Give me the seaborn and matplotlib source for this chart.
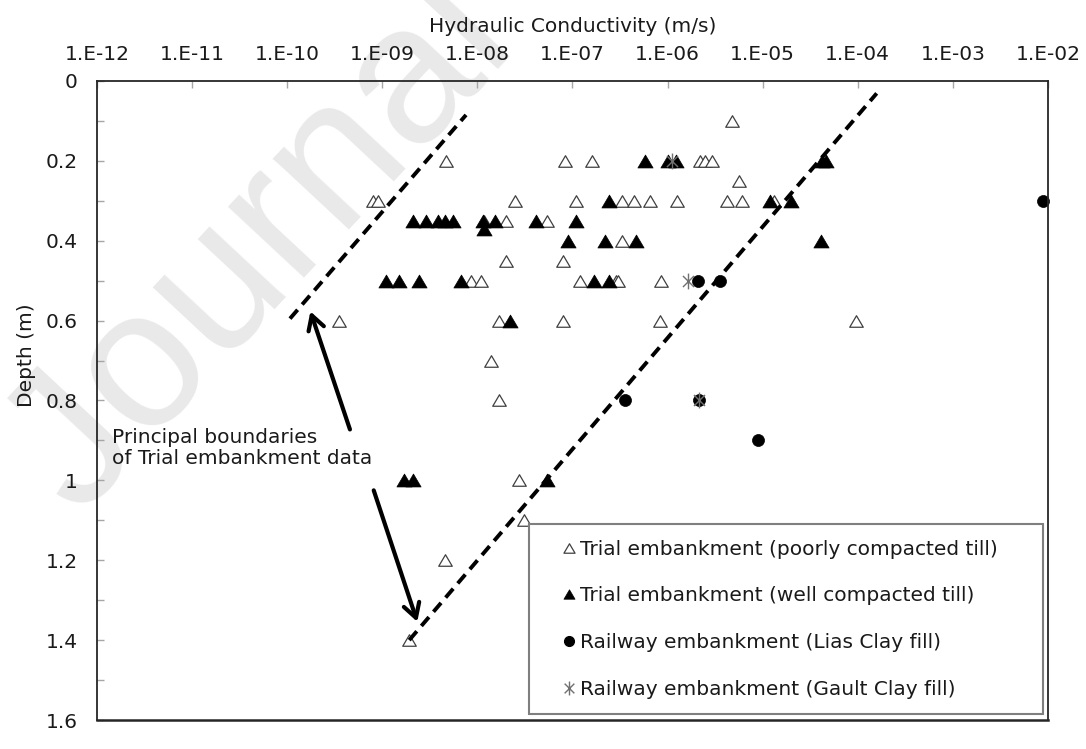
import numpy as np
import pandas as pd
import seaborn as sns
import matplotlib.pyplot as plt
from matplotlib.path import Path
from matplotlib.markers import MarkerStyle
from matplotlib.lines import Line2D
from matplotlib.ticker import NullLocator

# hydraulic conductivity k (m/s) against depth (m)

# trial embankment, poorly compacted till (open triangles)
poor_k = [4.8e-6,
          4.7e-9, 8.3e-8, 1.6e-7, 2.2e-6, 2.5e-6, 2.9e-6,
          5.6e-6,
          7.9e-10, 9.1e-10, 2.5e-8, 1.1e-7, 3.3e-7, 4.4e-7, 6.5e-7, 1.26e-6, 4.2e-6, 6.0e-6, 1.3e-5,
          1.17e-8, 2.0e-8, 5.4e-8,
          3.3e-7,
          2.0e-8, 7.9e-8,
          8.5e-9, 1.1e-8, 1.2e-7, 2.9e-7, 3.0e-7, 8.5e-7,
          3.5e-10, 1.7e-8, 7.9e-8, 8.3e-7, 9.5e-5,
          1.4e-8, 1.7e-8, 2.75e-8, 3.1e-8, 4.6e-9, 1.9e-9]
poor_depth = [0.1,
              0.2, 0.2, 0.2, 0.2, 0.2, 0.2,
              0.25,
              0.3, 0.3, 0.3, 0.3, 0.3, 0.3, 0.3, 0.3, 0.3, 0.3, 0.3,
              0.35, 0.35, 0.35,
              0.4,
              0.45, 0.45,
              0.5, 0.5, 0.5, 0.5, 0.5, 0.5,
              0.6, 0.6, 0.6, 0.6, 0.6,
              0.7, 0.8, 1.0, 1.1, 1.2, 1.4]

# trial embankment, well compacted till (filled triangles)
well_k = [5.8e-7, 1.0e-6, 1.23e-6, 4.2e-5, 4.6e-5,
          2.45e-7, 1.2e-5, 2.0e-5,
          2.1e-9, 2.9e-9, 3.9e-9, 4.6e-9, 5.6e-9, 1.15e-8, 1.55e-8, 4.1e-8, 1.1e-7,
          1.17e-8,
          8.9e-8, 2.2e-7, 4.7e-7, 4.1e-5,
          1.1e-9, 1.5e-9, 2.45e-9, 6.8e-9, 1.7e-7, 2.45e-7,
          2.2e-8,
          1.7e-9, 2.1e-9, 5.4e-8]
well_depth = [0.2, 0.2, 0.2, 0.2, 0.2,
              0.3, 0.3, 0.3,
              0.35, 0.35, 0.35, 0.35, 0.35, 0.35, 0.35, 0.35, 0.35,
              0.37,
              0.4, 0.4, 0.4, 0.4,
              0.5, 0.5, 0.5, 0.5, 0.5, 0.5,
              0.6,
              1.0, 1.0, 1.0]

# railway embankments
lias_k = [8.8e-3, 2.1e-6, 3.55e-6, 3.6e-7, 2.15e-6, 8.9e-6]
lias_depth = [0.3, 0.5, 0.5, 0.8, 0.8, 0.9]
gault_k = [1.1e-6, 1.65e-6, 2.15e-6]
gault_depth = [0.2, 0.5, 0.8]

# principal boundaries (dashed)
upper_k = [1.07e-10, 7.6e-9]
upper_depth = [0.595, 0.085]
lower_k = [1.92e-9, 1.58e-4]
lower_depth = [1.40, 0.031]

xtick_vals = [1e-12, 1e-11, 1e-10, 1e-9, 1e-8, 1e-7, 1e-6, 1e-5, 1e-4, 1e-3, 1e-2]
xtick_labels = ['1.E-12', '1.E-11', '1.E-10', '1.E-09', '1.E-08', '1.E-07',
                '1.E-06', '1.E-05', '1.E-04', '1.E-03', '1.E-02']
ytick_vals = [0, 0.2, 0.4, 0.6, 0.8, 1.0, 1.2, 1.4, 1.6]
ytick_labels = ['0', '0.2', '0.4', '0.6', '0.8', '1', '1.2', '1.4', '1.6']
yminor_vals = [0.1, 0.3, 0.5, 0.7, 0.9, 1.1, 1.3, 1.5]

series_labels = ['Trial embankment (poorly compacted till)',
                 'Trial embankment (well compacted till)',
                 'Railway embankment (Lias Clay fill)',
                 'Railway embankment (Gault Clay fill)']

sns.set_style('white')
plt.rcParams['font.family'] = ['DejaVu Sans']
plt.rcParams['font.size'] = 14.5
txt = '#1a1a1a'

tri = MarkerStyle(Path([(-1, -0.85), (1, -0.85), (0, 0.85), (-1, -0.85)], closed=True))
star = MarkerStyle(Path([(0, -1), (0, 1), (-0.7, -0.7), (0.7, 0.7), (-0.7, 0.7), (0.7, -0.7)],
                        [Path.MOVETO, Path.LINETO, Path.MOVETO, Path.LINETO, Path.MOVETO, Path.LINETO]))

poor = pd.DataFrame({'k': poor_k, 'depth': poor_depth})
well = pd.DataFrame({'k': well_k, 'depth': well_depth})
lias = pd.DataFrame({'k': lias_k, 'depth': lias_depth})
gault = pd.DataFrame({'k': gault_k, 'depth': gault_depth})

fig = plt.figure(figsize=(10.86, 7.49), dpi=100)
ax = fig.add_axes([0.0893, 0.0387, 0.8757, 0.8532])

# watermark
ax.text(0.072, 0.31, 'Journal', transform=fig.transFigure, rotation=47, rotation_mode='anchor',
        ha='left', va='baseline', fontsize=142, color='#e9e9e9', family='Liberation Sans', zorder=0.5)

sns.scatterplot(data=poor, x='k', y='depth', marker=tri, s=95, color='white',
                edgecolor='#404040', linewidth=0.9, ax=ax, zorder=2, legend=False)
sns.scatterplot(data=well, x='k', y='depth', marker=tri, s=120, color='black',
                edgecolor='black', linewidth=0.5, ax=ax, zorder=2, legend=False)
sns.scatterplot(data=lias, x='k', y='depth', marker='o', s=75, color='black',
                edgecolor='black', linewidth=0.5, ax=ax, zorder=2, legend=False, clip_on=False)
sns.scatterplot(data=gault, x='k', y='depth', marker=star, s=130, color='#707070',
                edgecolor='#707070', linewidth=1.0, ax=ax, zorder=2, legend=False)

ax.plot(upper_k, upper_depth, color='black', lw=2.8, ls=(0, (3, 1.8)), zorder=3)
ax.plot(lower_k, lower_depth, color='black', lw=2.8, ls=(0, (3, 1.8)), zorder=3)

ax.set_xscale('log')
ax.set_xlim(1e-12, 1e-2)
ax.set_ylim(1.6, 0)

ax.set_xticks(xtick_vals)
ax.set_xticklabels(xtick_labels)
ax.xaxis.set_minor_locator(NullLocator())
ax.set_yticks(ytick_vals)
ax.set_yticklabels(ytick_labels)
ax.set_yticks(yminor_vals, minor=True)

ax.tick_params(axis='x', which='both', top=True, bottom=False, labeltop=True, labelbottom=False,
               direction='in', length=5, width=1, color='#a6a6a6', labelcolor=txt, pad=12)
ax.tick_params(axis='y', which='both', left=True, right=False, direction='in', length=5,
               width=1, color='#a6a6a6', labelcolor=txt, pad=14)

ax.xaxis.set_label_position('top')
ax.set_xlabel('Hydraulic Conductivity (m/s)', color=txt, labelpad=9.5)
ax.set_ylabel('Depth (m)', color=txt)
ax.yaxis.set_label_coords(-0.064, 0.571)

for side in ['top', 'left', 'right']:
    ax.spines[side].set_color('#262626')
    ax.spines[side].set_linewidth(1.3)
ax.spines['bottom'].set_color('#262626')
ax.spines['bottom'].set_linewidth(1.8)

# annotation
ax.text(10 ** -11.84, 0.919, 'Principal boundaries\nof Trial embankment data', ha='left', va='center',
        color=txt, linespacing=1.15, zorder=4)
arrow = dict(arrowstyle='->,head_length=0.7,head_width=0.4', color='black', lw=3, shrinkA=0, shrinkB=0)
ax.annotate('', xy=(10 ** -9.756, 0.577), xytext=(10 ** -9.34, 0.8725), arrowprops=arrow, zorder=4)
ax.annotate('', xy=(10 ** -8.632, 1.354), xytext=(10 ** -9.09, 1.025), arrowprops=arrow, zorder=4)

handles = [
    Line2D([], [], marker=tri, ls='none', markersize=8, mfc='white', mec='#404040', mew=0.9),
    Line2D([], [], marker=tri, ls='none', markersize=8, mfc='black', mec='black', mew=0.5),
    Line2D([], [], marker='o', ls='none', markersize=7, mfc='black', mec='black'),
    Line2D([], [], marker=star, ls='none', markersize=10, mfc='#707070', mec='#707070', mew=1.0),
]
leg = ax.legend(handles, series_labels, loc='lower left', mode='expand',
                bbox_to_anchor=(0.454, 0.0094, 0.541, 0.2975), borderaxespad=0,
                fancybox=False, framealpha=1, edgecolor='#7f7f7f', borderpad=0.76,
                labelspacing=1.375, handlelength=2.48, handletextpad=-0.69, labelcolor=txt)
leg.get_frame().set_linewidth(1.5)
leg.set_zorder(5)

fig.savefig('out.png', dpi=100)
